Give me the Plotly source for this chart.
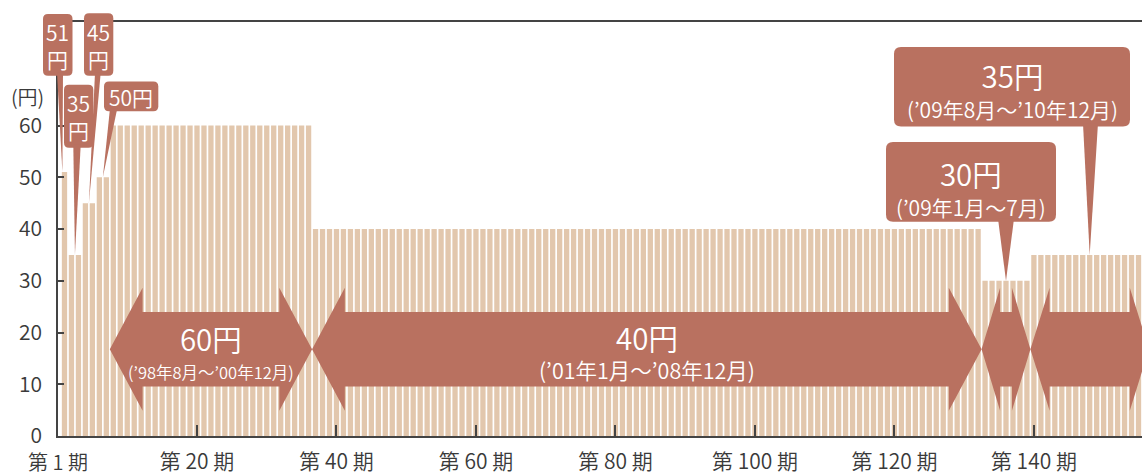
import plotly.graph_objects as go

# ---------------- data ----------------
periods = list(range(1, 157))
dividends = [
    51, 35, 35, 45, 45, 50, 50,
    60, 60, 60, 60, 60, 60, 60, 60, 60, 60, 60, 60, 60, 60, 60, 60, 60, 60, 60, 60,
    60, 60, 60, 60, 60, 60, 60, 60, 60,
    40, 40, 40, 40, 40, 40, 40, 40, 40, 40, 40, 40, 40, 40, 40, 40, 40, 40, 40, 40,
    40, 40, 40, 40, 40, 40, 40, 40, 40, 40, 40, 40, 40, 40, 40, 40, 40, 40, 40, 40,
    40, 40, 40, 40, 40, 40, 40, 40, 40, 40, 40, 40, 40, 40, 40, 40, 40, 40, 40, 40,
    40, 40, 40, 40, 40, 40, 40, 40, 40, 40, 40, 40, 40, 40, 40, 40, 40, 40, 40, 40,
    40, 40, 40, 40, 40, 40, 40, 40, 40, 40, 40, 40, 40, 40, 40, 40,
    30, 30, 30, 30, 30, 30, 30,
    35, 35, 35, 35, 35, 35, 35, 35, 35, 35, 35, 35, 35, 35, 35, 35, 35,
]
tick_periods = [20, 40, 60, 80, 100, 120, 140]
tick_labels = ["第 20 期", "第 40 期", "第 60 期", "第 80 期", "第 100 期", "第 120 期", "第 140 期"]
first_period_label = "第 1 期"
y_ticks = [0, 10, 20, 30, 40, 50, 60]
unit_label = "(円)"
arrow_main = ["60円", "40円", "30円", "35円"]
arrow_sub = ["(’98年8月～’00年12月)", "(’01年1月～’08年12月)", "", ""]
early_labels = ["51<br>円", "35<br>円", "45<br>円", "50円"]
late_main = ["30円", "35円"]
late_sub = ["(’09年1月～7月)", "(’09年8月～’10年12月)"]

# ---------------- style ----------------
BAR = "#e2c7ad"
BROWN = "#b97160"
INK = "#3a3a3a"
AX = "#444444"
FONT = "Noto Sans CJK JP"
NARROW = "Liberation Sans Narrow, Noto Sans CJK JP"
WT = 350

W, H = 1142, 475
ML, MR, MT, MB = 58, 0, 22, 37
PW, PH = W - ML - MR, H - MT - MB
XR = [0.07, 155.5]
YR = [0, 80]


def px(p):
    return (p - ML) / PW


def py(p):
    return (H - MB - p) / PH


def dx(v):
    return (v - XR[0]) / (XR[1] - XR[0])


def dy(v):
    return (v - YR[0]) / (YR[1] - YR[0])


# runs of equal dividend
runs = []
start = 0
for i in range(1, len(dividends) + 1):
    if i == len(dividends) or dividends[i] != dividends[start]:
        runs.append((periods[start], periods[i - 1], dividends[start]))
        start = i
early_runs = runs[:4]
later_runs = runs[4:]

fig = go.Figure()
fig.add_trace(go.Bar(x=periods, y=dividends, width=0.76,
                     marker=dict(color=BAR, line=dict(width=0)),
                     hoverinfo="skip"))

shapes = []
annotations = []


def text(x, y, s, size, family=FONT, color="white", ref="paper", **kw):
    annotations.append(dict(x=x, y=y, xref=ref if ref == "paper" else "x",
                            yref=ref if ref == "paper" else "y", text=s,
                            showarrow=False, xanchor="center", yanchor="middle",
                            font=dict(family=family, size=size, color=color, weight=WT), **kw))


def two_size(main, sub, main_size, sub_size):
    return (f"<span style=\"font-family:'Noto Sans CJK JP';font-size:{main_size}px\">{main}</span>"
            f"<br><span style=\"font-size:{sub_size}px\">{sub}</span>")


# double arrows
yc, body, head = 16.77, 7.2, 11.9
head_len = [4.7, 4.7, 2.65, 2.75]
arrow_sub_size = [16.5, 21.5]
arrow_base_size = [21.3, 22.6]
arrow_sub_font = [NARROW, FONT]
for k, (p0, p1, v) in enumerate(later_runs):
    x0, x1 = p0 - 0.5, p1 + 0.5
    h = head_len[k]
    path = (f"M {x0},{yc} L {x0+h},{yc+head} L {x0+h},{yc+body} L {x1-h},{yc+body} "
            f"L {x1-h},{yc+head} L {x1},{yc} L {x1-h},{yc-head} L {x1-h},{yc-body} "
            f"L {x0+h},{yc-body} L {x0+h},{yc-head} Z")
    shapes.append(dict(type="path", path=path, xref="x", yref="y",
                       fillcolor=BROWN, line=dict(width=0), layer="above"))
    if arrow_sub[k]:
        xm = (x0 + x1) / 2
        text(xm, 16.6, two_size(arrow_main[k], arrow_sub[k], 29.5, arrow_sub_size[k]),
             arrow_base_size[k], family=arrow_sub_font[k], ref="data")


def rounded_box(x0, y0, x1, y1, r):
    return (f"M {px(x0+r)},{py(y0)} L {px(x1-r)},{py(y0)} Q {px(x1)},{py(y0)} {px(x1)},{py(y0+r)} "
            f"L {px(x1)},{py(y1-r)} Q {px(x1)},{py(y1)} {px(x1-r)},{py(y1)} "
            f"L {px(x0+r)},{py(y1)} Q {px(x0)},{py(y1)} {px(x0)},{py(y1-r)} "
            f"L {px(x0)},{py(y0+r)} Q {px(x0)},{py(y0)} {px(x0+r)},{py(y0)} Z")


def callout(box, base, tip_period, tip_value, r=5):
    x0, y0, x1, y1 = box
    shapes.append(dict(type="path", path=rounded_box(x0, y0, x1, y1, r), xref="paper", yref="paper",
                       fillcolor=BROWN, line=dict(width=0), layer="above"))
    b0, b1 = base
    tri = f"M {px(b0)},{py(y1-3)} L {px(b1)},{py(y1-3)} L {dx(tip_period)},{dy(tip_value)} Z"
    shapes.append(dict(type="path", path=tri, xref="paper", yref="paper",
                       fillcolor=BROWN, line=dict(width=0), layer="above"))


# early (small) callouts
early_boxes = [(43, 14, 72.5, 76), (64, 85, 93.3, 148.3), (84, 13.3, 113.3, 76), (104, 81.7, 158.3, 111.7)]
early_bases = [(57, 63), (73.3, 80.7), (95, 100.7), (110, 117.3)]
early_tip_offset = [-0.3, 0, 0, 0]
early_text_y = [45.5, 116.5, 45.5, 97.5]
for k, (p0, p1, v) in enumerate(early_runs):
    tipx = (p0 + p1) / 2 + early_tip_offset[k]
    callout(early_boxes[k], early_bases[k], tipx, v, r=5)
    cx = (early_boxes[k][0] + early_boxes[k][2]) / 2
    text(px(cx), py(early_text_y[k]), early_labels[k], 21)

# late (large) callouts
late_boxes = [(886, 142.7, 1056, 222.7), (894, 47, 1130, 127)]
late_bases = [(998, 1014), (1083, 1098)]
late_text_y = [187.5, 89.5]
for k, (p0, p1, v) in enumerate(later_runs[2:]):
    callout(late_boxes[k], late_bases[k], (p0 + p1) / 2, v, r=7)
    cx = (late_boxes[k][0] + late_boxes[k][2]) / 2
    text(px(cx), py(late_text_y[k]), two_size(late_main[k], late_sub[k], 29.5, 21), 23)

# unit label and first period label
text(px(27), py(96.5), unit_label, 20, color=INK)
text(px(57.5), py(464), first_period_label, 20, color=INK, height=21, valign="middle")

fig.update_layout(
    width=W, height=H,
    margin=dict(l=ML, r=MR, t=MT, b=MB, pad=0),
    paper_bgcolor="white", plot_bgcolor="white",
    showlegend=False,
    shapes=shapes,
    annotations=annotations,
    font=dict(family=FONT, color=INK, size=21, weight=WT),
    xaxis=dict(range=XR, showline=True, linecolor=AX, linewidth=1.5, mirror=True,
               ticks="inside", ticklen=11, tickwidth=1.5, tickcolor=AX,
               tickvals=tick_periods, ticktext=tick_labels,
               tickfont=dict(family=FONT, size=21, color=INK, weight=WT),
               ticklabelstandoff=6,
               showgrid=False, zeroline=False, fixedrange=True),
    yaxis=dict(range=YR, showline=True, linecolor=AX, linewidth=1.5,
               ticks="inside", ticklen=6, tickwidth=1.5, tickcolor=AX,
               tickvals=y_ticks, tickfont=dict(family=FONT, size=21, color=INK, weight=WT),
               ticklabelstandoff=10,
               showgrid=False, zeroline=False, fixedrange=True),
)

fig.write_html("out.html", config={"displayModeBar": False})
